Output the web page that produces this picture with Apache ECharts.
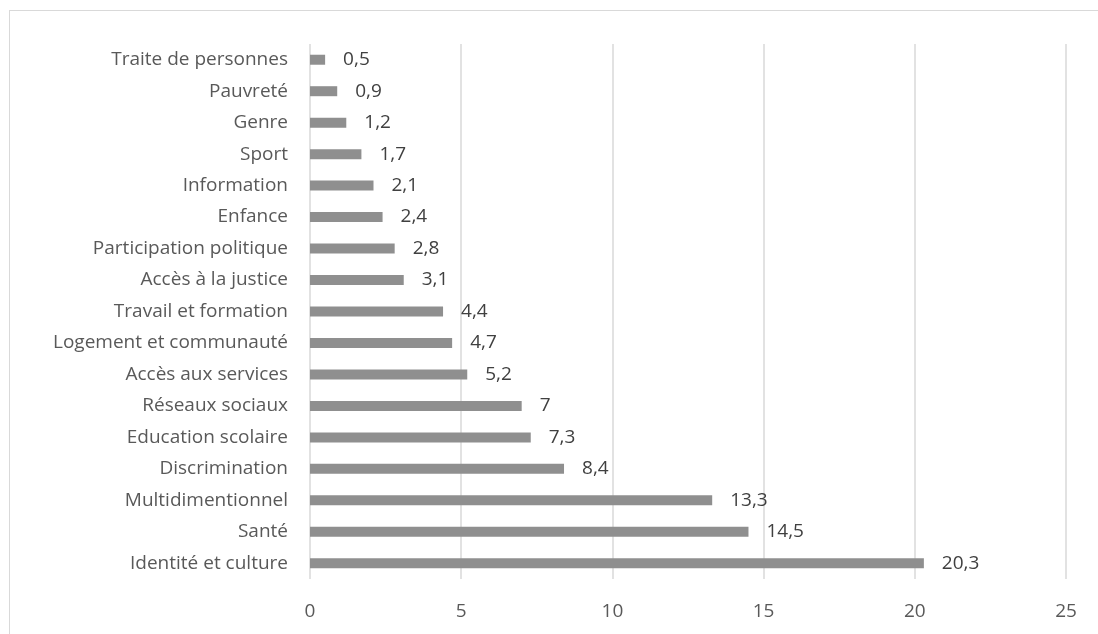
<!DOCTYPE html>
<html>
<head>
<meta charset="utf-8">
<script src="https://cdn.jsdelivr.net/npm/echarts@6/dist/echarts.min.js"></script>
<style>
html,body{margin:0;padding:0;background:#fff;}
#frame{position:absolute;left:9px;top:10px;width:1100px;height:640px;border:1px solid #d9d9d9;box-sizing:border-box;}
#chart{position:absolute;left:0;top:0;width:1098px;height:634px;}
</style>
</head>
<body>
<div id="frame"></div>
<div id="chart"></div>
<script>
const categories = ["Identité et culture","Santé","Multidimentionnel","Discrimination","Education scolaire","Réseaux sociaux","Accès aux services","Logement et communauté","Travail et formation","Accès à la justice","Participation politique","Enfance","Information","Sport","Genre","Pauvreté","Traite de personnes"];
const values = [20.3,14.5,13.3,8.4,7.3,7,5.2,4.7,4.4,3.1,2.8,2.4,2.1,1.7,1.2,0.9,0.5];
const xTicks = [0,5,10,15,20,25];

const chart = echarts.init(document.getElementById('chart'));
const font = 'Open Sans, Lato, sans-serif';
chart.setOption({
  animation:false,
  grid:{left:310,right:32,top:44,bottom:55,containLabel:false},
  xAxis:{type:'value',min:xTicks[0],max:xTicks[xTicks.length-1],interval:5,
    axisLine:{show:false},axisTick:{show:false},
    splitLine:{show:true,lineStyle:{color:'#d9d9d9',width:1.5}},
    axisLabel:{color:'#595959',fontSize:19,fontFamily:font,margin:23}},
  yAxis:{type:'category',data:categories,
    axisLine:{show:false},axisTick:{show:false},
    axisLabel:{color:'#595959',fontSize:19,fontFamily:font,margin:22}},
  series:[{type:'bar',data:values,barWidth:10,
    itemStyle:{color:'#8f8f8f'},
    label:{show:true,position:'right',distance:18,color:'#404040',fontSize:19,fontFamily:font,
      formatter:p=>String(p.value).replace('.',',')}}]
});
</script>
</body>
</html>
